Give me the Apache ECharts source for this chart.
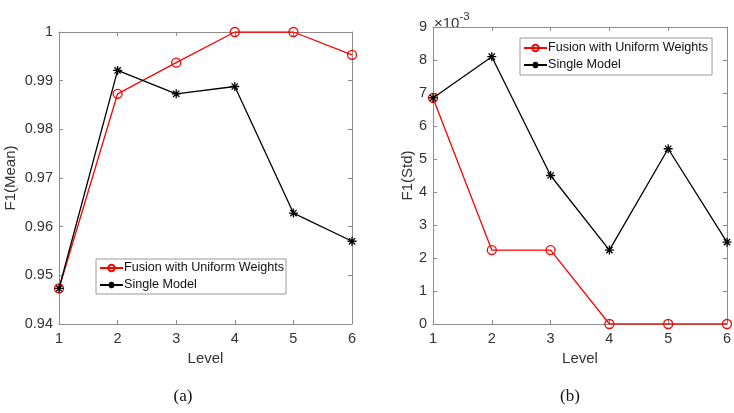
<!DOCTYPE html>
<html>
<head>
<meta charset="utf-8">
<script src="https://cdn.jsdelivr.net/npm/echarts@6/dist/echarts.min.js"></script>
<style>
  html, body { margin: 0; padding: 0; background: #fff; }
  #chart { width: 734px; height: 413px; }
</style>
</head>
<body>
<div id="chart"></div>
<script>
// levels on the x axis
const levels = [1, 2, 3, 4, 5, 6];

// (a) F1 mean
const meanFusion = [0.9473, 0.9873, 0.9937, 1.0, 1.0, 0.9953];
const meanSingle = [0.9473, 0.9921, 0.9873, 0.9888, 0.9628, 0.9570];

// (b) F1 std, in units of 1e-3
const stdFusion = [6.85, 2.24, 2.24, 0, 0, 0];
const stdSingle = [6.85, 8.1, 4.5, 2.24, 5.31, 2.48];

const names = ['Fusion with Uniform Weights', 'Single Model'];

const font = 'Liberation Sans, Arial, sans-serif';
const textColor = '#333';
const axisColor = '#8c8c8c';

const starPath = 'path://M0,-10L0,10M-10,0L10,0M-7,-7L7,7M-7,7L7,-7';

const pairs = (ys) => levels.map((x, i) => [x, ys[i]]);

const makeX = (gridIndex, show) => ({
    type: 'value',
    gridIndex: gridIndex,
    min: 1,
    max: 6,
    interval: 1,
    position: show ? 'bottom' : 'top',
    name: show ? 'Level' : '',
    nameLocation: 'middle',
    nameGap: 26,
    nameTextStyle: { fontFamily: font, fontSize: 15, color: textColor },
    axisLine: { show: true, onZero: false, lineStyle: { color: axisColor, width: 1 } },
    axisTick: { show: true, inside: true, length: 4, lineStyle: { color: axisColor } },
    axisLabel: { show: show, fontFamily: font, fontSize: 14.5, color: textColor, margin: 7 },
    splitLine: { show: false }
});

const makeY = (gridIndex, show, opts) => Object.assign({
    type: 'value',
    gridIndex: gridIndex,
    position: show ? 'left' : 'right',
    nameLocation: 'middle',
    nameTextStyle: { fontFamily: font, fontSize: 15, color: textColor },
    axisLine: { show: true, onZero: false, lineStyle: { color: axisColor, width: 1 } },
    axisTick: { show: true, inside: true, length: 4, lineStyle: { color: axisColor } },
    axisLabel: { show: show, fontFamily: font, fontSize: 14.5, color: textColor, margin: 6 },
    splitLine: { show: false }
}, opts);

const lineSeries = (name, data, xi, yi, isFusion) => ({
    name: name,
    type: 'line',
    xAxisIndex: xi,
    yAxisIndex: yi,
    data: data,
    symbol: isFusion ? 'circle' : starPath,
    symbolSize: 9,
    showAllSymbol: true,
    color: isFusion ? '#ff0000' : '#000000',
    lineStyle: { width: 1.3, color: isFusion ? '#ff0000' : '#000000' },
    itemStyle: isFusion
        ? { color: 'rgba(255,255,255,0)', borderColor: '#ff0000', borderWidth: 1.3 }
        : { color: '#000', borderColor: '#000', borderWidth: 1.3 },
    animation: false,
    z: isFusion ? 2 : 3
});

const legendBase = {
    data: names,
    orient: 'vertical',
    backgroundColor: '#fff',
    borderColor: '#9a9a9a',
    borderWidth: 1,
    padding: [2, 2, 2, 3],
    itemGap: 3,
    itemWidth: 23,
    itemHeight: 8,
    selectedMode: false,
    textStyle: { fontFamily: font, fontSize: 12.6, lineHeight: 14, color: '#111', padding: [0, 0, 0, -4] }
};

const chart = echarts.init(document.getElementById('chart'));

const option = {
    backgroundColor: '#fff',
    animation: false,
    grid: [
        { left: 59, top: 32, width: 293, height: 292 },
        { left: 433, top: 27, width: 299, height: 297 }
    ],
    xAxis: [
        makeX(0, true), makeX(0, false),
        makeX(1, true), makeX(1, false)
    ],
    yAxis: [
        makeY(0, true, {
            min: 0.94, max: 1, interval: 0.01,
            name: 'F1(Mean)', nameGap: 41,
            axisLabel: {
                fontFamily: font, fontSize: 14.5, color: textColor, margin: 6,
                formatter: v => (v === 1 ? '1' : v.toFixed(2))
            }
        }),
        makeY(0, false, { min: 0.94, max: 1, interval: 0.01 }),
        makeY(1, true, {
            min: 0, max: 9, interval: 1,
            name: 'F1(Std)', nameGap: 14
        }),
        makeY(1, false, { min: 0, max: 9, interval: 1 })
    ],
    legend: [
        Object.assign({}, legendBase, { left: 96, top: 259 }),
        Object.assign({}, legendBase, { left: 520, top: 38, padding: [3, 4, 3, 3] })
    ],
    graphic: [
        {
            type: 'text', x: 183, y: 397,
            style: { text: '(a)', font: '17px "Liberation Serif", "Times New Roman", serif', fill: '#111', textAlign: 'center', textVerticalAlign: 'middle' }
        },
        {
            type: 'text', x: 570, y: 397,
            style: { text: '(b)', font: '17px "Liberation Serif", "Times New Roman", serif', fill: '#111', textAlign: 'center', textVerticalAlign: 'middle' }
        },
        {
            type: 'text', x: 434, y: 11,
            style: {
                text: '×10{sup|-3}',
                font: '15px "Liberation Sans", Arial, sans-serif',
                fill: textColor,
                rich: { sup: { fontSize: 11.5, fontFamily: font, fill: textColor, verticalAlign: 'top', padding: [0, 0, 13, 0] } }
            }
        }
    ],
    series: [
        lineSeries(names[0], pairs(meanFusion), 0, 0, true),
        lineSeries(names[1], pairs(meanSingle), 0, 0, false),
        lineSeries(names[0], pairs(stdFusion), 2, 2, true),
        lineSeries(names[1], pairs(stdSingle), 2, 2, false)
    ]
};

chart.setOption(option);
</script>
</body>
</html>
